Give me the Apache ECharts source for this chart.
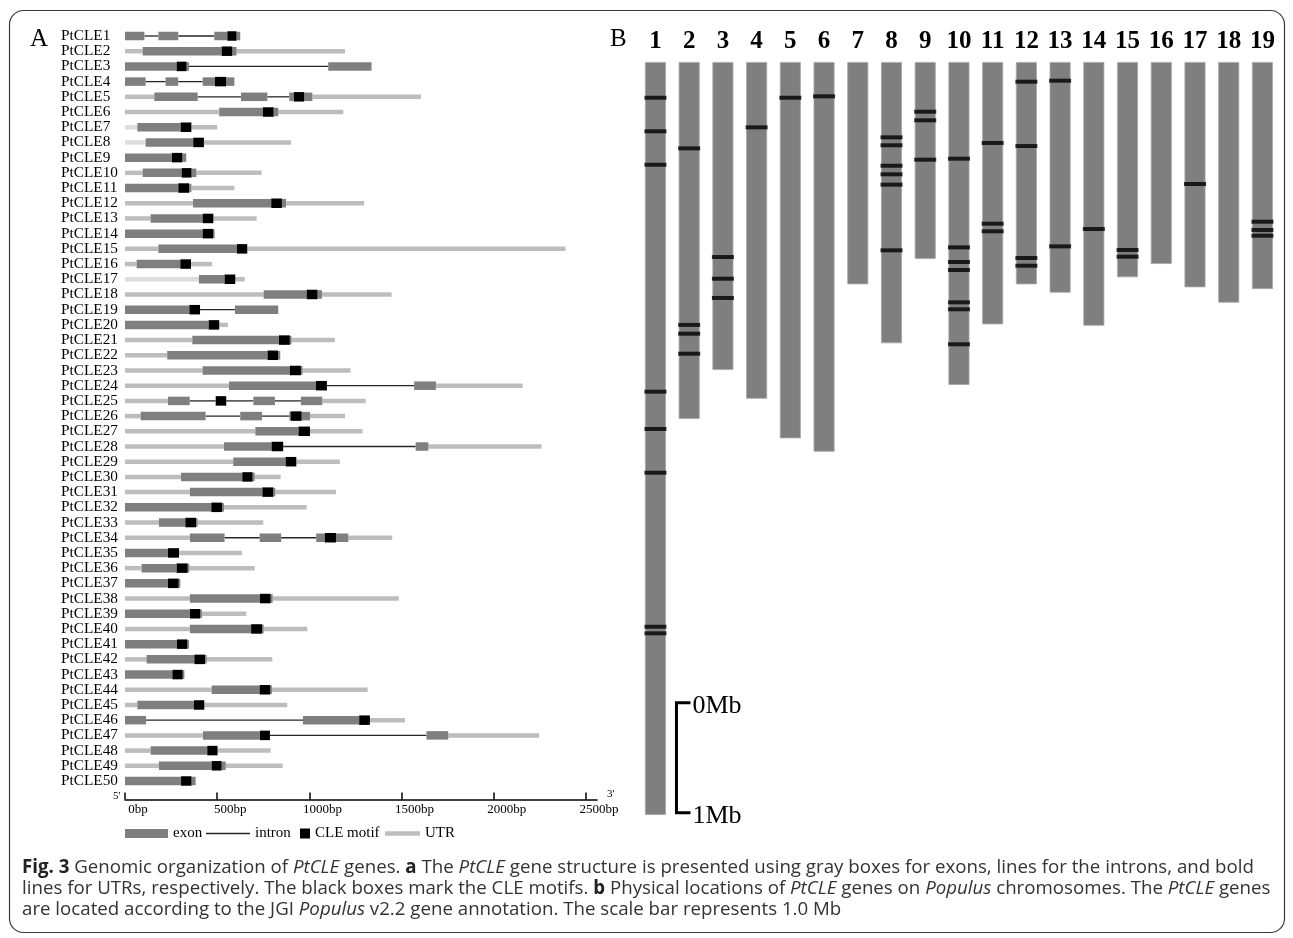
<!DOCTYPE html>
<html><head><meta charset="utf-8">
<script src="https://cdn.jsdelivr.net/npm/echarts@6/dist/echarts.min.js"></script>
<style>html,body{margin:0;padding:0;background:#fff}#c{width:1293px;height:938px}</style>
</head><body><div id="c"></div>
<script>
// ---------- Panel A data ----------
const genes = ['PtCLE1','PtCLE2','PtCLE3','PtCLE4','PtCLE5','PtCLE6','PtCLE7','PtCLE8','PtCLE9','PtCLE10',
  'PtCLE11','PtCLE12','PtCLE13','PtCLE14','PtCLE15','PtCLE16','PtCLE17','PtCLE18','PtCLE19','PtCLE20',
  'PtCLE21','PtCLE22','PtCLE23','PtCLE24','PtCLE25','PtCLE26','PtCLE27','PtCLE28','PtCLE29','PtCLE30',
  'PtCLE31','PtCLE32','PtCLE33','PtCLE34','PtCLE35','PtCLE36','PtCLE37','PtCLE38','PtCLE39','PtCLE40',
  'PtCLE41','PtCLE42','PtCLE43','PtCLE44','PtCLE45','PtCLE46','PtCLE47','PtCLE48','PtCLE49','PtCLE50'];
// segment types: E exon, I intron, M CLE motif, U UTR, L UTR (light)
const structures = [
  [['E',0,105],['I',105,181],['E',181,289],['I',289,484],['E',484,555],['M',555,605],['E',605,625]],
  [['U',0,96],['E',96,524],['M',524,582],['E',582,605],['U',605,1193]],
  [['E',0,280],['M',280,334],['E',334,347],['I',347,1102],['E',1102,1337]],
  [['E',0,112],['I',112,220],['E',220,289],['I',289,421],['E',421,488],['M',488,548],['E',548,593]],
  [['U',0,159],['E',159,394],['I',394,629],['E',629,772],['I',772,891],['E',891,916],['M',916,972],['E',972,1016],['U',1016,1605]],
  [['U',0,511],['E',511,748],['M',748,806],['E',806,831],['U',831,1184]],
  [['L',0,67],['E',67,302],['M',302,360],['U',360,500]],
  [['L',0,112],['E',112,370],['M',370,428],['U',428,900]],
  [['E',0,255],['M',255,311],['E',311,332]],
  [['U',0,96],['E',96,307],['M',307,361],['E',361,387],['U',387,741]],
  [['E',0,289],['M',289,347],['E',347,360],['U',360,593]],
  [['U',0,369],['E',369,793],['M',793,851],['E',851,873],['U',873,1297]],
  [['U',0,139],['E',139,421],['M',421,479],['U',479,714]],
  [['E',0,421],['M',421,479],['E',479,486]],
  [['U',0,181],['E',181,607],['M',607,663],['U',663,2389]],
  [['U',0,63],['E',63,300],['M',300,358],['U',358,473]],
  [['L',0,401],['E',401,540],['M',540,598],['U',598,649]],
  [['U',0,752],['E',752,985],['M',985,1044],['E',1044,1068],['U',1068,1446]],
  [['E',0,349],['M',349,407],['I',407,596],['E',596,831]],
  [['E',0,454],['M',454,511],['U',511,558]],
  [['U',0,365],['E',365,835],['M',835,894],['E',894,903],['U',903,1138]],
  [['U',0,229],['E',229,773],['M',773,831],['E',831,842]],
  [['U',0,421],['E',421,894],['M',894,954],['E',954,963],['U',963,1223]],
  [['U',0,564],['E',564,1035],['M',1035,1095],['I',1095,1568],['E',1568,1686],['U',1686,2156]],
  [['U',0,233],['E',233,351],['I',351,492],['M',492,549],['I',549,696],['E',696,813],['I',813,954],['E',954,1070],['U',1070,1305]],
  [['U',0,85],['E',85,437],['I',437,625],['E',625,743],['I',743,891],['E',891,898],['M',898,958],['E',958,1003],['U',1003,1193]],
  [['U',0,707],['E',707,941],['M',941,1003],['U',1003,1288]],
  [['U',0,537],['E',537,795],['M',795,858],['I',858,1576],['E',1576,1645],['U',1645,2259]],
  [['U',0,587],['E',587,871],['M',871,929],['U',929,1165]],
  [['U',0,304],['E',304,636],['M',636,692],['E',692,703],['U',703,844]],
  [['U',0,352],['E',352,745],['M',745,804],['E',804,815],['U',815,1144]],
  [['E',0,468],['M',468,526],['E',526,537],['U',537,985]],
  [['U',0,184],['E',184,327],['M',327,385],['E',385,394],['U',394,750]],
  [['U',0,352],['E',352,540],['I',540,730],['E',730,847],['I',847,1037],['E',1037,1084],['M',1084,1144],['E',1144,1211],['U',1211,1449]],
  [['E',0,233],['M',233,293],['U',293,634]],
  [['U',0,90],['E',90,280],['M',280,340],['E',340,349],['U',349,703]],
  [['E',0,233],['M',233,291],['E',291,300]],
  [['U',0,352],['E',352,732],['M',732,790],['E',790,801],['U',801,1485]],
  [['E',0,352],['M',352,408],['E',408,417],['U',417,658]],
  [['U',0,352],['E',352,684],['M',684,744],['E',744,752],['U',752,988]],
  [['E',0,282],['M',282,338],['E',338,347]],
  [['U',0,117],['E',117,376],['M',376,434],['E',434,443],['U',443,799]],
  [['E',0,257],['M',257,313],['E',313,322]],
  [['U',0,470],['E',470,730],['M',730,788],['E',788,797],['U',797,1316]],
  [['U',0,67],['E',67,374],['M',374,430],['U',430,880]],
  [['E',0,114],['I',114,965],['E',965,1270],['M',1270,1328],['U',1328,1518]],
  [['U',0,423],['E',423,732],['M',732,786],['I',786,1635],['E',1635,1753],['U',1753,2246]],
  [['U',0,139],['E',139,446],['M',446,502],['U',502,790]],
  [['U',0,184],['E',184,470],['M',470,524],['E',524,546],['U',546,855]],
  [['E',0,304],['M',304,361],['E',361,383]]
];
const bpTicks = [0, 500, 1000, 1500, 2000, 2500];

// ---------- Panel B data ----------
const chromosomes = ['1','2','3','4','5','6','7','8','9','10','11','12','13','14','15','16','17','18','19'];
const chromLengths = [6.845, 3.245, 2.80, 3.061, 3.421, 3.543, 2.021, 2.557, 1.791, 2.936, 2.385, 2.021, 2.097, 2.397, 1.957, 1.836, 2.048, 2.188, 2.064];
const chromGenes = [
  [0.325, 0.63, 0.934, 2.997, 3.336, 3.734, 5.134, 5.194],
  [0.785, 2.39, 2.47, 2.652],
  [1.773, 1.97, 2.145],
  [0.594],
  [0.325],
  [0.312],
  [],
  [0.685, 0.757, 0.943, 1.021, 1.115, 1.712],
  [0.452, 0.53, 0.888],
  [0.879, 1.685, 1.818, 1.891, 2.185, 2.248, 2.566],
  [0.736, 1.470, 1.539],
  [0.179, 0.764, 1.782, 1.852],
  [0.170, 1.676],
  [1.518],
  [1.709, 1.770],
  [],
  [1.109],
  [],
  [1.452, 1.527, 1.579]
];
const scaleBar = [5.825, 6.825];
const scaleBarLabels = ['0Mb', '1Mb'];

// ---------- build ----------
const segData = { U: [], L: [], I: [], E: [], M: [] };
structures.forEach((segs, gi) => segs.forEach(([t, s, e]) => segData[t].push([gi, s, e])));
const markerData = [];
chromGenes.forEach((list, ci) => list.forEach(p => markerData.push([ci, p])));

const SERIF = '"Liberation Serif", "Times New Roman", serif';
const CAP = '18.7px "Open Sans"';
function segRender(height, fill) {
  return function (params, api) {
    const g = api.value(0);
    const s = api.coord([api.value(1), g]);
    const e = api.coord([api.value(2), g]);
    return { type: 'rect', shape: { x: s[0], y: s[1] - height / 2, width: Math.max(e[0] - s[0], 0.6), height: height },
      style: { fill: fill } };
  };
}
function segSeries(name, data, height, fill, z) {
  return { type: 'custom', name: name, xAxisIndex: 0, yAxisIndex: 0, data: data, z: z,
    encode: { x: [1, 2], y: 0 }, itemStyle: { color: fill }, renderItem: segRender(height, fill), silent: true };
}
const legendCommon = { icon: 'rect', padding: 0, itemGap: 0, selectedMode: false,
  textStyle: { fontFamily: SERIF, fontSize: 15, color: '#000' } };
const capRich = {
  b: { fontFamily: 'Open Sans', fontSize: 18.7, fontWeight: 'bold', fill: '#222' },
  i: { fontFamily: 'Open Sans', fontSize: 18.7, fontStyle: 'italic', fill: '#333' }
};

const option = {
  animation: false,
  backgroundColor: '#fff',
  grid: [
    { left: 125, top: 28.4, width: 2560 * 0.1844, height: 760.2 },
    { left: 638.6, top: 62, width: 640.7, height: 770 }
  ],
  xAxis: [
    { gridIndex: 0, type: 'value', min: 0, max: 2560, position: 'bottom', offset: 11,
      splitLine: { show: false },
      axisLine: { show: true, onZero: false, lineStyle: { color: '#000', width: 1.5 } },
      axisTick: { show: true, inside: true, length: 7, customValues: bpTicks, lineStyle: { color: '#000', width: 1.5 } },
      axisLabel: { customValues: bpTicks, formatter: v => v + 'bp', fontFamily: SERIF, fontSize: 13, color: '#000',
        margin: 3, padding: [0, 0, 0, 26] } },
    { gridIndex: 1, type: 'category', data: chromosomes, position: 'top',
      axisLine: { show: false }, axisTick: { show: false }, splitLine: { show: false },
      axisLabel: { interval: 0, fontFamily: SERIF, fontWeight: 'bold', fontSize: 25, color: '#000', margin: 8 } }
  ],
  yAxis: [
    { gridIndex: 0, type: 'category', data: genes, inverse: true,
      axisLine: { show: false }, axisTick: { show: false }, splitLine: { show: false },
      axisLabel: { interval: 0, align: 'left', margin: 64, fontFamily: SERIF, fontSize: 15.3, color: '#000' } },
    { gridIndex: 1, type: 'value', min: 0, max: 7, inverse: true, show: false }
  ],
  legend: [
    Object.assign({ data: ['exon'], left: 125, top: 826, itemWidth: 43, itemHeight: 9 }, legendCommon),
    Object.assign({ data: ['intron'], left: 206, top: 826, itemWidth: 44, itemHeight: 1.3 }, legendCommon),
    Object.assign({ data: ['CLE motif'], left: 300, top: 826, itemWidth: 10, itemHeight: 10 }, legendCommon),
    Object.assign({ data: ['UTR'], left: 385, top: 826, itemWidth: 35, itemHeight: 4.5 }, legendCommon)
  ],
  series: [
    segSeries('UTR', segData.U, 4.5, '#bdbdbd', 1),
    segSeries('UTR5', segData.L, 4.5, '#dcdcdc', 1),
    segSeries('intron', segData.I, 1.3, '#262626', 2),
    segSeries('exon', segData.E, 8.5, '#7f7f7f', 3),
    segSeries('CLE motif', segData.M, 9.5, '#000000', 4),
    { type: 'bar', name: 'chromosome', xAxisIndex: 1, yAxisIndex: 1, data: chromLengths, barWidth: 21,
      itemStyle: { color: '#7f7f7f', borderColor: '#a8a8a8', borderWidth: 0.8 }, silent: true, z: 2 },
    { type: 'scatter', name: 'PtCLE loci', xAxisIndex: 1, yAxisIndex: 1, data: markerData,
      symbol: 'rect', symbolSize: [22, 4], itemStyle: { color: '#000' }, silent: true, z: 3 },
    { type: 'custom', name: 'scale', xAxisIndex: 1, yAxisIndex: 1, data: [[0, scaleBar[0], scaleBar[1]]],
      encode: { x: 0, y: [1, 2] }, silent: true, z: 4,
      renderItem: function (params, api) {
        const p0 = api.coord([api.value(0), api.value(1)]);
        const p1 = api.coord([api.value(0), api.value(2)]);
        const x = p0[0] + 21;
        return { type: 'group', children: [
          { type: 'polyline', shape: { points: [[x + 14, p0[1]], [x, p0[1]], [x, p1[1]], [x + 14, p1[1]]] },
            style: { stroke: '#000', lineWidth: 3, fill: null } },
          { type: 'text', style: { text: scaleBarLabels[0], x: x + 16, y: p0[1] + 3, verticalAlign: 'middle',
            font: '26px ' + SERIF, fill: '#000' } },
          { type: 'text', style: { text: scaleBarLabels[1], x: x + 16, y: p1[1] + 3, verticalAlign: 'middle',
            font: '26px ' + SERIF, fill: '#000' } }
        ] };
      } }
  ],
  graphic: [
    { type: 'rect', shape: { x: 9.5, y: 10.5, width: 1275, height: 922, r: 14 },
      style: { fill: 'none', stroke: '#3a3a3a', lineWidth: 1.2 }, silent: true },
    { type: 'text', x: 30, y: 39, style: { text: 'A', font: '25px ' + SERIF, fill: '#000', verticalAlign: 'middle' } },
    { type: 'text', x: 610, y: 39, style: { text: 'B', font: '25px ' + SERIF, fill: '#000', verticalAlign: 'middle' } },
    { type: 'text', x: 113, y: 796, style: { text: "5'", font: '11px ' + SERIF, fill: '#000', verticalAlign: 'middle' } },
    { type: 'text', x: 607, y: 794, style: { text: "3'", font: '11px ' + SERIF, fill: '#000', verticalAlign: 'middle' } },
    { type: 'text', x: 22, y: 868, style: {
      text: '{b|Fig. 3} Genomic organization of {i|PtCLE} genes. {b|a} The {i|PtCLE} gene structure is presented using gray boxes for exons, lines for the introns, and bold',
      font: CAP, fill: '#333', verticalAlign: 'middle', rich: capRich } },
    { type: 'text', x: 22, y: 889, style: {
      text: 'lines for UTRs, respectively. The black boxes mark the CLE motifs. {b|b} Physical locations of {i|PtCLE} genes on {i|Populus} chromosomes. The {i|PtCLE} genes',
      font: CAP, fill: '#333', verticalAlign: 'middle', rich: capRich } },
    { type: 'text', x: 22, y: 910, style: {
      text: 'are located according to the JGI {i|Populus} v2.2 gene annotation. The scale bar represents 1.0 Mb',
      font: CAP, fill: '#333', verticalAlign: 'middle', rich: capRich } }
  ]
};
const chart = echarts.init(document.getElementById('c'), null, { renderer: 'canvas' });
chart.setOption(option);
</script>
</body></html>
